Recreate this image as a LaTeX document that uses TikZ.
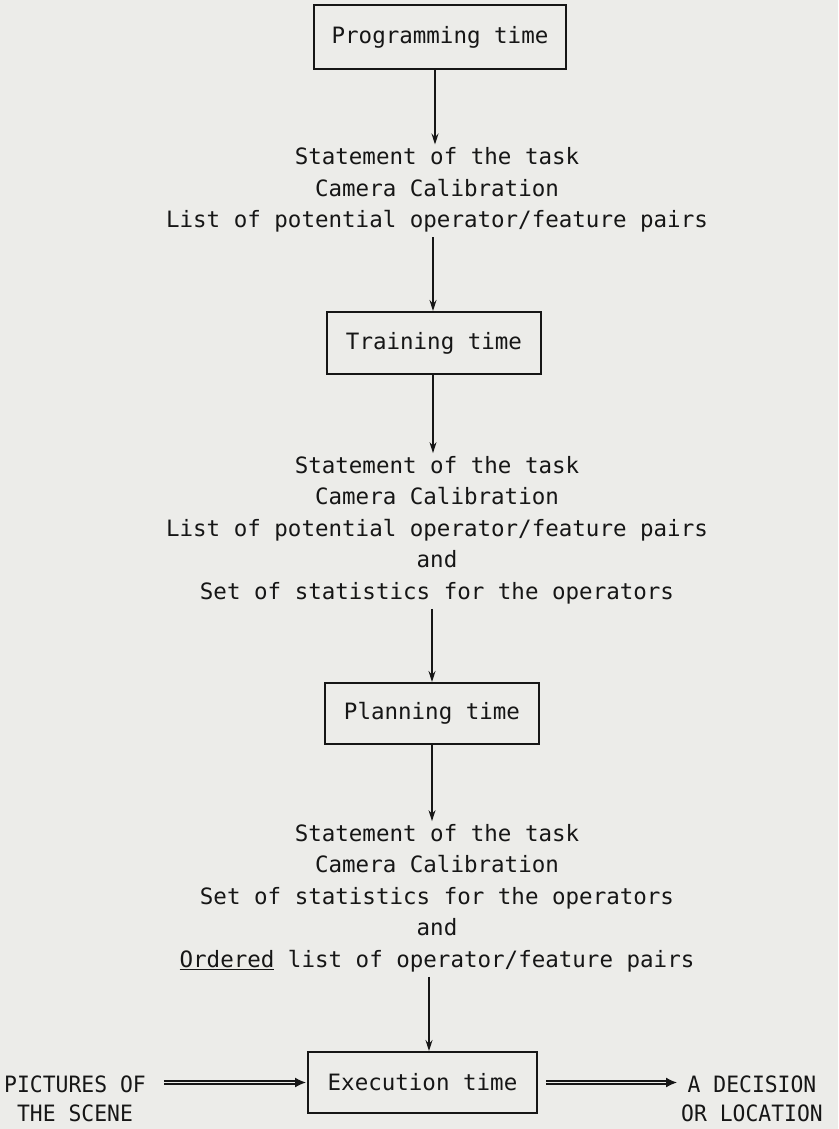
\documentclass[tikz,border=0pt]{standalone}
\usepackage{fontspec}
\usetikzlibrary{arrows.meta}
% line-printer style lettering
\newfontfamily\lpfont{DejaVu Sans Mono}
\newfontfamily\lpcaps{DejaVu Sans Mono}[FakeStretch=0.95]
\definecolor{paper}{RGB}{236,236,233}
\definecolor{ink}{RGB}{22,22,22}
\begin{document}
\begin{tikzpicture}[x=1pt,y=-1pt,
  stagebox/.style={draw=ink, line width=2pt, inner sep=0pt, text=ink,
    font=\lpfont\fontsize{22.5}{31}\selectfont},
  items/.style={align=center, inner sep=0pt, text=ink,
    font=\lpfont\fontsize{22.5}{31.4}\selectfont},
  ends/.style={align=center, inner sep=0pt, text=ink,
    font=\lpcaps\fontsize{22.5}{29}\selectfont},
  flow/.style={draw=ink, line width=1.3pt, -{Stealth[length=11pt,width=7pt]}},
  feed/.style={draw=ink, line width=1.4pt, double=paper, double distance=1.8pt,
    -{Latex[length=11pt,width=10pt]}}
]
% page
\fill[paper] (0,0) rectangle (838,1129);
\useasboundingbox (0,0) rectangle (838,1129);

% stages
\node[stagebox, minimum width=252pt, minimum height=64pt] (prog) at (440,37) {Programming time};
\node[stagebox, minimum width=214pt, minimum height=62pt] (train) at (434,343) {Training time};
\node[stagebox, minimum width=214pt, minimum height=61pt] (plan) at (432,713.5) {Planning time};
\node[stagebox, minimum width=229pt, minimum height=61pt] (exec) at (422.5,1082.5) {Execution time};

% what each stage hands on
\node[items] (t1) at (437,190) {Statement of the task\\Camera Calibration\\List of potential operator/feature pairs};
\node[items] (t2) at (437,530) {Statement of the task\\Camera Calibration\\List of potential operator/feature pairs\\and\\Set of statistics for the operators};
\node[items] (t3) at (437,898) {Statement of the task\\Camera Calibration\\Set of statistics for the operators\\and\\\underline{Ordered} list of operator/feature pairs};

% input and output of the run
\node[ends] (pics) at (75,1099) {PICTURES OF\\THE SCENE};
\node[ends] (decision) at (752,1099) {A DECISION\\OR LOCATION};

% columns of the vertical connectors
\coordinate (x1) at (435,0);
\coordinate (x2) at (433,0);
\coordinate (x3) at (432,0);
\coordinate (x4) at (429,0);

\draw[flow, shorten >=3pt] (prog.south -| x1) -- (t1.north -| x1);
\draw[flow, shorten <=5pt] (t1.south -| x2) -- (train.north -| x2);
\draw[flow, shorten >=3pt] (train.south -| x2) -- (t2.north -| x2);
\draw[flow, shorten <=5pt] (t2.south -| x3) -- (plan.north -| x3);
\draw[flow, shorten >=3pt] (plan.south -| x3) -- (t3.north -| x3);
\draw[flow, shorten <=5pt] (t3.south -| x4) -- (exec.north -| x4);

\draw[feed, shorten <=18pt, shorten >=1pt] (pics.east |- exec.west) -- (exec.west);
\draw[feed, shorten <=8pt, shorten >=4pt] (exec.east) -- (decision.west |- exec.east);
\end{tikzpicture}
\end{document}
